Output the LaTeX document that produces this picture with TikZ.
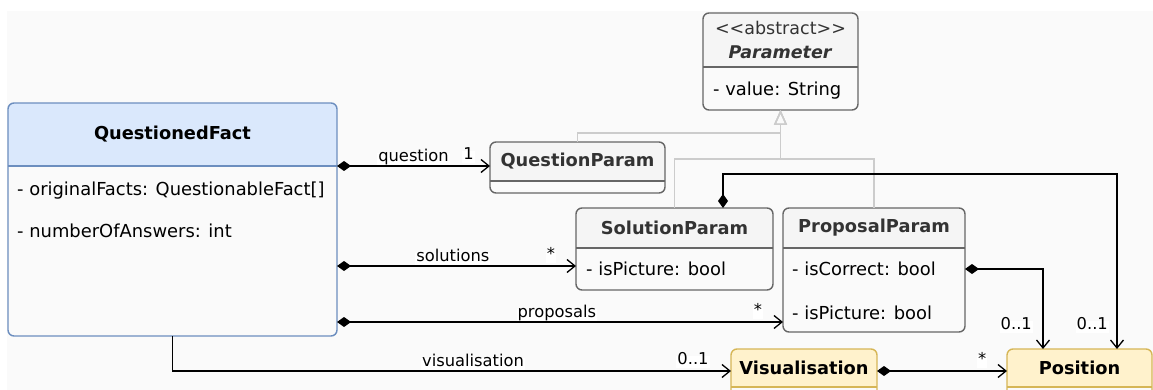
\documentclass[tikz,border=0pt]{standalone}
\usepackage{fontspec}
\setmainfont{DejaVu Sans}
\usetikzlibrary{arrows.meta,positioning,calc}
\pgfdeclarelayer{background}
\pgfsetlayers{background,main}
\definecolor{canvas}{HTML}{FAFAFA}
\definecolor{blueHead}{HTML}{DAE8FC}
\definecolor{blueLine}{HTML}{6C8EBF}
\definecolor{grayHead}{HTML}{F5F5F5}
\definecolor{grayLine}{HTML}{666666}
\definecolor{grayText}{HTML}{333333}
\definecolor{yellowHead}{HTML}{FFF2CC}
\definecolor{yellowLine}{HTML}{D6B656}
\definecolor{genLine}{HTML}{CCCCCC}

\begin{document}
\begin{tikzpicture}[
  x=1pt,y=-1pt,
  classhead/.style={anchor=north west, inner sep=0pt, outer sep=0pt,
    font=\bfseries\fontsize{17.8}{21}\selectfont, text=grayText},
  classbody/.style={anchor=north west, inner sep=0pt, outer sep=0pt},
  attr/.style={anchor=west, inner sep=0pt, font=\fontsize{17.9}{21}\selectfont,
    text height=0.75em, text depth=0.25em},
  lbl/.style={fill=white, inner sep=1pt, font=\fontsize{16.3}{19}\selectfont,
    text height=0.75em, text depth=0.25em},
  frame/.style={line width=1.4pt, rounded corners=6pt},
  assoc/.style={draw=black, line width=1.3pt,
    {Diamond[length=14pt,width=10pt]}-{Straight Barb[length=8pt,width=13pt]}},
  nav/.style={draw=black, line width=1.3pt, -{Straight Barb[length=8pt,width=13pt]}},
  gen/.style={draw=genLine, line width=1.4pt, -{Triangle[open,length=15pt,width=13pt]}},
]
\useasboundingbox (0,0) rectangle (1153,390);
\begin{pgfonlayer}{background}
  \fill[canvas] (7,11) rectangle (1153,390);
\end{pgfonlayer}

% Classes
\node[classhead, text=black, minimum width=329pt, minimum height=63pt] (QFh) at (8,103) {QuestionedFact};
\node[classbody, minimum width=329pt, minimum height=170pt] (QFb) at (QFh.south west) {};
\node[attr] (QFa1) at ($(QFb.north west)+(9,27)$) {- originalFacts: QuestionableFact[]};
\node[attr] (QFa2) at ($(QFb.north west)+(9,69)$) {- numberOfAnswers: int};

\node[classhead, align=center, minimum width=155pt, minimum height=54pt,
  font=\fontsize{17.5}{24}\selectfont] (PRh) at (703,13)
  {<\kern0pt<abstract>\kern0pt>\\\textbf{\textit{Parameter}}};
\node[classbody, minimum width=155pt, minimum height=43pt] (PRb) at (PRh.south west) {};
\node[attr] (PRa1) at ($(PRb.north west)+(10,26)$) {- value: String};

\node[classhead, minimum width=175pt, minimum height=39pt] (QPh) at (490,142) {QuestionParam};
\node[classbody, minimum width=175pt, minimum height=12pt] (QPb) at (QPh.south west) {};

\node[classhead, minimum width=197pt, minimum height=40pt] (SPh) at (576,208) {SolutionParam};
\node[classbody, minimum width=197pt, minimum height=42pt] (SPb) at (SPh.south west) {};
\node[attr] (SPa1) at ($(SPb.north west)+(10,25)$) {- isPicture: bool};

\node[classhead, minimum width=182pt, minimum height=40pt] (PPh) at (783,208) {ProposalParam};
\node[classbody, minimum width=182pt, minimum height=84pt] (PPb) at (PPh.south west) {};
\node[attr] (PPa1) at ($(PPb.north west)+(9,25)$) {- isCorrect: bool};
\node[attr] (PPa2) at ($(PPb.north west)+(9,69)$) {- isPicture: bool};

\node[classhead, text=black, minimum width=146pt, minimum height=38pt] (VIh) at (731,349) {Visualisation};
\node[classbody, minimum width=146pt, minimum height=30pt] (VIb) at (VIh.south west) {};

\node[classhead, text=black, minimum width=145pt, minimum height=38pt] (POh) at (1007,349) {Position};
\node[classbody, minimum width=145pt, minimum height=30pt] (POb) at (POh.south west) {};

% Header fills and frames
\foreach \c/\hc/\lc in {QF/blueHead/blueLine, PR/grayHead/grayLine, QP/grayHead/grayLine,
    SP/grayHead/grayLine, PP/grayHead/grayLine, VI/yellowHead/yellowLine, PO/yellowHead/yellowLine}{
  \begin{pgfonlayer}{background}
    \begin{scope}
      \clip[rounded corners=6pt] (\c h.north west) rectangle (\c b.south east);
      \fill[\hc] (\c h.north west) rectangle (\c h.south east);
    \end{scope}
  \end{pgfonlayer}
  \draw[frame, draw=\lc] (\c h.north west) rectangle (\c b.south east);
  \draw[line width=1.4pt, draw=\lc] (\c h.south west) -- (\c h.south east);
}

% Generalisation
\draw[gen] (QPh.north) -- ++(0,-9) -| (PRb.south);
\draw[gen] (SPh.north) -- ++(0,-49) -| (PRb.south);
\draw[gen] (PPh.north) -- ++(0,-49) -| (PRb.south);

% Associations
\coordinate (solIn) at ($(SPb.north west)+(0,18)$);
\coordinate (propIn) at ($(PPb.south west)+(0,-10)$);
\coordinate (visIn) at ($(VIh.west)+(0,3)$);

\draw[assoc] (QFh.south east) -- node[lbl, above, pos=0.5] (lq) {question}
  node[lbl, above=2pt, pos=0.86] (mq) {1} (QFh.south east -| QPh.west);
\draw[assoc] (QFb.east |- solIn) -- node[lbl, above, pos=0.485] (ls) {solutions}
  node[lbl, above=2pt, pos=0.895] (ms) {*} (solIn);
\draw[assoc] (QFb.east |- propIn) -- node[lbl, above, pos=0.493] (lp) {proposals}
  node[lbl, above=2pt, pos=0.944] (mp) {*} (propIn);
\draw[nav] (QFb.south) -- (QFb.south |- visIn) -- node[lbl, above, pos=0.538] (lv) {visualisation}
  node[lbl, above=2pt, pos=0.932] (mv) {0..1} (visIn);
\draw[assoc] ($(VIh.east)+(0,3)$) -- node[lbl, above=2pt, pos=0.81] (mvp) {*} ($(POh.west)+(0,3)$);
\draw[assoc] ($(PPb.north east)+(0,21)$) -| ($(POh.north west)+(36,0)$);
\draw[assoc] ($(SPh.north west)+(147,0)$) -- ++(0,-34) -| ($(POh.north west)+(110,0)$);
\node[lbl, anchor=south east] (mpp) at ($(POh.north west)+(26,-16)$) {0..1};
\node[lbl, anchor=south east] (msp) at ($(POh.north west)+(102,-16)$) {0..1};
\end{tikzpicture}
\end{document}
